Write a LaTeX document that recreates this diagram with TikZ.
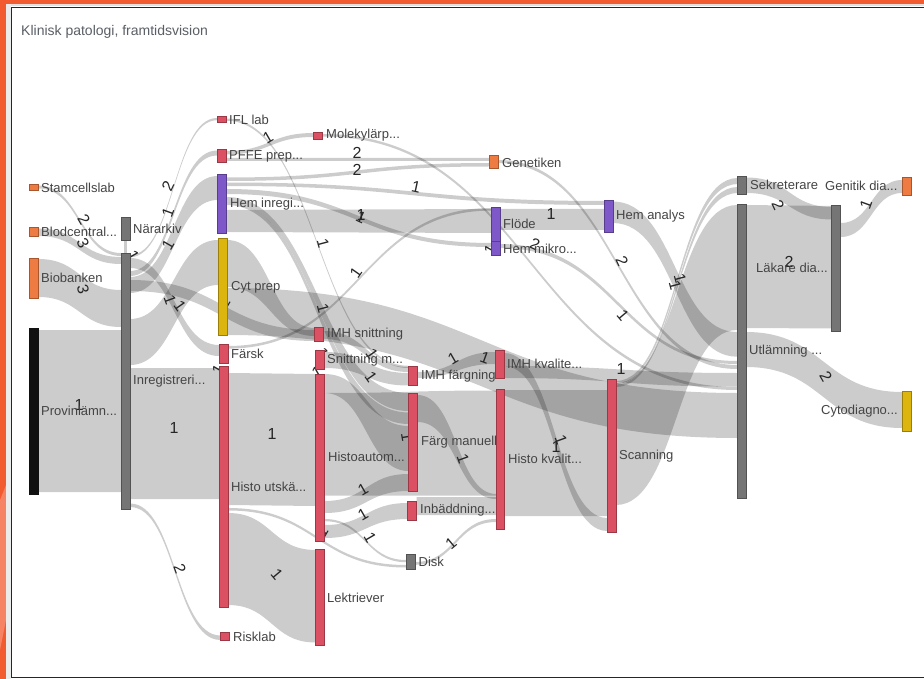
\documentclass[tikz,border=0pt]{standalone}
\usepackage{fontspec}
\setmainfont{Liberation Sans}
\usetikzlibrary{calc}
\pgfdeclarelayer{base}
\pgfdeclarelayer{flows}
\pgfsetlayers{base,flows,main}
\definecolor{nred}{HTML}{DC5064}
\definecolor{npur}{HTML}{7E57C8}
\definecolor{nyel}{HTML}{DDB50F}
\definecolor{nora}{HTML}{EE7B42}
\definecolor{ngry}{HTML}{757575}
\definecolor{nblk}{HTML}{111111}
\definecolor{frameor}{HTML}{F25A30}
\definecolor{txt}{HTML}{444444}
\definecolor{ttl}{HTML}{5A5F66}
\tikzset{
  x=1pt,y=-1pt,
  box/.style={draw,line width=.5pt,inner sep=0pt,outer sep=0pt},
  redbox/.style={box,fill=nred,draw=nred!70!black},
  purbox/.style={box,fill=npur,draw=npur!70!black},
  yelbox/.style={box,fill=nyel,draw=nyel!70!black},
  orabox/.style={box,fill=nora,draw=nora!70!black},
  grybox/.style={box,fill=ngry,draw=ngry!70!black},
  blkbox/.style={box,fill=nblk,draw=nblk},
  flowfill/.style={fill=black,fill opacity=.2},
  flowstroke/.style={draw=black,draw opacity=.2},
  nlabel/.style={text=txt,font=\fontsize{13}{15}\selectfont,inner sep=0pt,anchor=west},
  titlelabel/.style={nlabel,text=ttl,font=\fontsize{14}{16}\selectfont},
  elabel/.style={text=black!85,font=\fontsize{16}{18}\selectfont,inner sep=0pt},
}
% box: name, x0, y0, x1, y1, style
\newcommand{\skbox}[6]{%
  \pgfmathsetmacro{\cx}{(#2+#4)/2}\pgfmathsetmacro{\cy}{(#3+#5)/2}%
  \pgfmathsetmacro{\bw}{#4-#2}\pgfmathsetmacro{\bh}{#5-#3}%
  \node[#6,minimum width=\bw pt,minimum height=\bh pt] (#1) at (\cx,\cy) {};}
% link: from, y, y, to, y, y
\newcommand{\slink}[6]{%
  \coordinate (A0) at (#1.east |- 0,#2);\coordinate (A1) at (#1.east |- 0,#3);%
  \coordinate (B0) at (#4.west |- 0,#5);\coordinate (B1) at (#4.west |- 0,#6);%
  \coordinate (M) at ($(A0)!.5!(B0)$);%
  \fill[flowfill] (A0) .. controls (M |- A0) and (M |- B0) .. (B0) -- (B1)
     .. controls (M |- B1) and (M |- A1) .. (A1) -- cycle;}
\begin{document}
\begin{tikzpicture}
\useasboundingbox (0,0) rectangle (924,679);
\begin{pgfonlayer}{base}
  \fill[white] (0,0) rectangle (924,679);
  \fill[frameor] (0,0) rectangle (924,4);
  \fill[frameor] (0,0) rectangle (6,679);
  \fill[frameor!75!white] (0,500) -- (6,485) -- (6,620) -- (0,650) -- cycle;
  \fill[black!12] (6,4) rectangle (924,6);
  \fill[black!8] (6,4) rectangle (11,679);
  \fill[black!12] (11,678.5) rectangle (924,679);
  \draw[black!85,line width=1.1pt] (924,7.3) -- (11.8,7.3) -- (11.8,677.3) -- (924,677.3);
\end{pgfonlayer}
% nodes
\skbox{stam}{29.5}{184.5}{38.5}{190.5}{orabox}
\skbox{blod}{29.5}{227.5}{38.5}{236}{orabox}
\skbox{bio}{29.5}{258}{38.5}{298}{orabox}
\skbox{prov}{29.5}{328.5}{38.5}{494}{blkbox}
\skbox{nar}{121}{217}{130}{240.7}{grybox}
\skbox{inr}{121}{253}{130}{509}{grybox}
\skbox{ifl}{217}{116.3}{226}{122}{redbox}
\skbox{pffe}{217}{149.7}{226}{162}{redbox}
\skbox{hem}{217.5}{174.7}{226.5}{233.3}{purbox}
\skbox{cyt}{218}{238.7}{227}{335.3}{yelbox}
\skbox{farsk}{219}{344.3}{228}{363.3}{redbox}
\skbox{histo}{219}{366}{228}{607}{redbox}
\skbox{risk}{220.5}{632.7}{229.5}{640.7}{redbox}
\skbox{mol}{313.7}{132}{322.7}{139}{redbox}
\skbox{imhsn}{314.7}{327.7}{323.7}{341.7}{redbox}
\skbox{snit}{315.5}{350}{324.5}{369}{redbox}
\skbox{haut}{315.5}{374}{324.5}{541.3}{redbox}
\skbox{lekt}{315.5}{549}{324.5}{645}{redbox}
\skbox{imhf}{408.5}{366}{417.5}{385.7}{redbox}
\skbox{farg}{408.5}{393}{417.5}{491.3}{redbox}
\skbox{inb}{407.7}{501}{416.7}{520}{redbox}
\skbox{disk}{406}{554}{415}{569.7}{grybox}
\skbox{gen}{489.3}{155.7}{498}{168.7}{orabox}
\skbox{flode}{491}{207.3}{500}{241.7}{purbox}
\skbox{mikro}{491}{241.7}{500}{255}{purbox}
\skbox{imhkv}{495.3}{350.3}{504}{378}{redbox}
\skbox{hkv}{496}{389.3}{504.7}{529.3}{redbox}
\skbox{hana}{604}{200.7}{613}{232.3}{purbox}
\skbox{scan}{607.3}{379.3}{616}{532.7}{redbox}
\skbox{sek}{737.7}{176.7}{746.7}{194.3}{grybox}
\skbox{util}{737}{204}{746}{498}{grybox}
\skbox{lak}{831.7}{205}{840.7}{331.7}{grybox}
\skbox{gdia}{902}{177.3}{911}{195}{orabox}
\skbox{cyto}{902}{391.3}{911}{431}{yelbox}
% node labels
\node[titlelabel] (t0) at (21,31.5) {Klinisk patologi, framtidsvision};
\node[nlabel] (t1) at (41,187.5) {Stamcellslab};
\node[nlabel] (t2) at (41,231.5) {Blodcentral...};
\node[nlabel] (t3) at (41,278) {Biobanken};
\node[nlabel] (t4) at (41,411) {Provinlämn...};
\node[nlabel] (t5) at (133,229) {Närarkiv};
\node[nlabel] (t6) at (133,381) {Inregistreri...};
\node[nlabel] (t7) at (229,120) {IFL lab};
\node[nlabel] (t8) at (229,156) {PFFE prep...};
\node[nlabel] (t9) at (230,204) {Hem inregi...};
\node[nlabel] (t10) at (231,287.5) {Cyt prep};
\node[nlabel] (t11) at (231,354) {Färsk};
\node[nlabel] (t12) at (231,487) {Histo utskä...};
\node[nlabel] (t13) at (233,636.5) {Risklab};
\node[nlabel] (t14) at (326,135) {Molekylärp...};
\node[nlabel] (t15) at (327,334) {IMH snittning};
\node[nlabel] (t16) at (327,360) {Snittning m...};
\node[nlabel] (t17) at (328,457) {Histoautom...};
\node[nlabel] (t18) at (327,598) {Lektriever};
\node[nlabel] (t19) at (421,376) {IMH färgning};
\node[nlabel] (t20) at (421,442) {Färg manuell};
\node[nlabel] (t21) at (420,510.5) {Inbäddning...};
\node[nlabel] (t22) at (418.5,562) {Disk};
\node[nlabel] (t23) at (502,162.5) {Genetiken};
\node[nlabel] (t24) at (503,224) {Flöde};
\node[nlabel] (t25) at (503,249) {Hem mikro...};
\node[nlabel] (t26) at (507,363.5) {IMH kvalite...};
\node[nlabel] (t27) at (508,459) {Histo kvalit...};
\node[nlabel] (t28) at (616,216.5) {Hem analys};
\node[nlabel] (t29) at (619,456) {Scanning};
\node[nlabel] (t30) at (750,185) {Sekreterare};
\node[nlabel] (t31) at (749,351) {Utlämning ...};
\node[nlabel] (t32) at (756,268) {Läkare dia...};
\node[nlabel] (t33) at (825,185.5) {Genitik dia...};
\node[nlabel] (t34) at (821,411.5) {Cytodiagno...};
% flows
\begin{pgfonlayer}{flows}
\slink{prov}{330}{492}{inr}{330}{492}
\slink{bio}{259}{297}{inr}{290}{327}
\slink{blod}{228.5}{236}{inr}{257}{264}
\slink{stam}{185.5}{188.5}{inr}{253}{256}
\draw[flowstroke,line width=3.5pt] (nar.south) -- (inr.north);
\slink{inr}{255}{257.2}{ifl}{118}{120.2}
\slink{inr}{271}{276}{pffe}{150.5}{155.5}
\slink{inr}{277}{293}{hem}{176}{200}
\slink{inr}{319}{365}{cyt}{240}{285}
\slink{inr}{258}{268}{farsk}{345}{356}
\slink{inr}{280}{291}{imhsn}{330}{341}
\slink{inr}{368}{499}{histo}{368}{499}
\slink{inr}{503.5}{507}{risk}{635.5}{640}
\slink{ifl}{118.5}{120.7}{imhf}{365.8}{368}
\slink{pffe}{151}{154.5}{mol}{133}{137}
\slink{pffe}{158}{161}{gen}{158}{161}
\slink{hem}{177.5}{181}{gen}{163}{166.5}
\slink{hem}{182.5}{186}{hana}{201}{205}
\slink{hem}{189}{194}{mikro}{243}{247}
\slink{hem}{210}{232}{flode}{209}{233}
\slink{hem}{197}{202}{farg}{393}{411}
\slink{hem}{202}{205}{farg}{412.5}{424}
\slink{cyt}{240}{287}{imhsn}{328}{336}
\slink{cyt}{288}{335}{util}{393}{438}
\slink{farsk}{346}{348.6}{flode}{208}{210.6}
\slink{histo}{373}{505}{haut}{374}{506}
\slink{histo}{513}{605}{lekt}{550}{642.5}
\slink{histo}{508}{510.5}{disk}{565}{567.5}
\slink{haut}{519}{521.2}{disk}{560}{562.2}
\slink{haut}{374}{393}{farg}{426}{471}
\slink{haut}{393}{495.5}{hkv}{390.5}{495.5}
\slink{haut}{501}{513}{farg}{474}{491}
\slink{haut}{525}{538}{inb}{503}{519}
\slink{imhsn}{331}{339}{imhf}{367}{372}
\slink{snit}{352}{368}{imhf}{373}{385.5}
\slink{imhf}{372}{378}{imhkv}{352}{364}
\slink{imhkv}{366}{378}{util}{373}{386.6}
\slink{imhkv}{353}{366}{scan}{518}{531}
\slink{farg}{395}{422}{hkv}{494}{499}
\slink{inb}{497}{515}{hkv}{497}{515}
\slink{disk}{562}{564.8}{hkv}{519}{522}
\slink{hkv}{390}{516}{scan}{390}{516}
\slink{scan}{383}{505}{util}{205}{330}
\slink{scan}{381}{384}{sek}{178}{184}
\slink{scan}{384.5}{387}{sek}{187}{193}
\slink{hana}{201.5}{223}{util}{332}{356.7}
\slink{flode}{209}{230}{hana}{209}{230}
\slink{mikro}{244}{248}{util}{361}{364}
\slink{gen}{160}{163}{util}{365}{369}
\slink{mol}{134}{136.5}{util}{387}{390}
\slink{util}{205}{328}{lak}{206}{328.5}
\slink{util}{332}{367}{cyto}{392}{428}
\slink{sek}{177.5}{193}{lak}{207}{219.5}
\slink{lak}{223}{237}{gdia}{180}{193}
% link value labels
\foreach \x/\y/\r/\t [count=\i] in {
 84/220/-60/2, 83/243/-65/3, 83/289/-75/3, 79/405/0/1, 174/428/0/1, 272/434/0/1,
 180/569/-70/2, 168/186/65/2, 168/212/70/1, 168/245/60/1, 170/300/-70/1, 180/306/-55/1,
 133/256/-60/1, 224/303/60/1, 218/370/60/1, 317/373/30/1, 322/352/-75/1, 322/532/60/1,
 407/437/-80/1, 490/250/60/1, 268/138/30/1, 323/243/-75/1, 323/308/-75/1, 356/273/55/1,
 357/153/0/2, 357/170/0/2, 416/187/-12/1, 361/215/0/1, 361/217/-25/1, 551/214/0/1,
 535/244/-25/2, 372/354/-55/1, 371/377/-55/1, 453/359/30/1, 485/358/-20/1, 621/369/0/1,
 463/459/-70/1, 363/490/30/1, 363/515/30/1, 370/538/-60/1, 451/543/40/1, 556/447/0/1,
 561/440/-70/1, 277/574/-50/1, 622/261/-65/2, 623/315/-50/1, 680/278/-75/1, 675/285/-75/1,
 778/205/-65/2, 789/262/0/2, 826/377/-60/2, 866/204/70/1}
 \node[elabel,rotate=\r] (e\i) at (\x,\y) {\t};
\end{pgfonlayer}
\end{tikzpicture}
\end{document}
